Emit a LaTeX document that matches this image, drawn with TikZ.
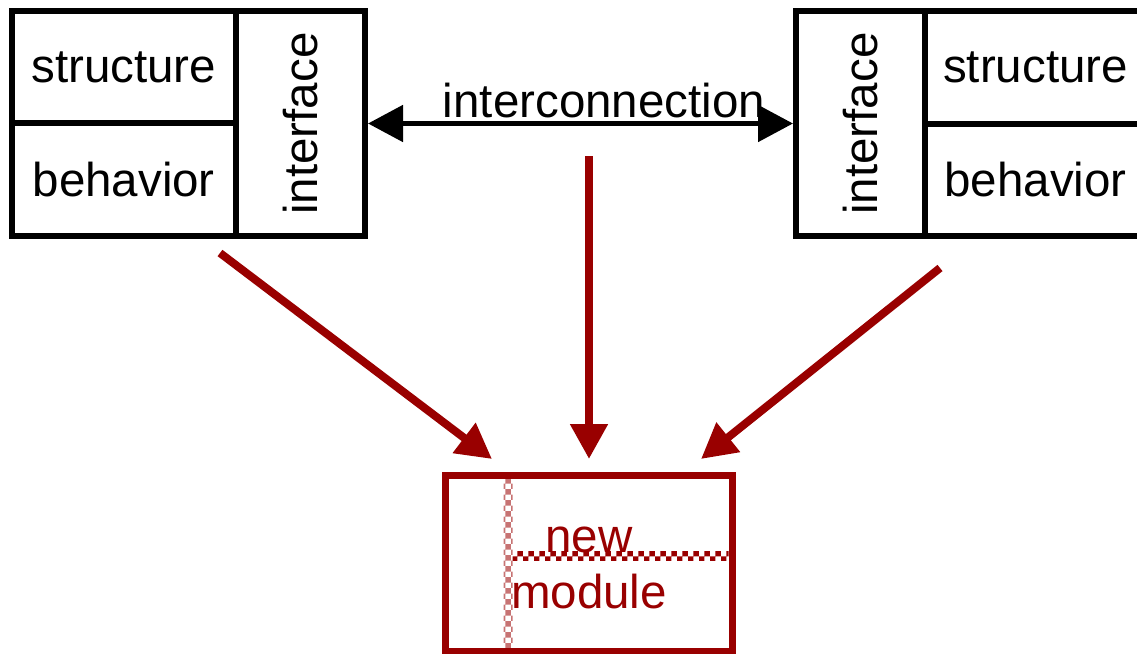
\documentclass[tikz,border=0pt]{standalone}
\usepackage{fontspec}
\setmainfont{Liberation Sans}
\usetikzlibrary{calc,arrows.meta,patterns}
\definecolor{modred}{HTML}{990000}

\begin{document}
\begin{tikzpicture}[x=1pt,y=-1pt,font=\fontsize{47.5}{56}\selectfont,
  cell/.style={draw, line width=6pt, inner sep=0pt},
  linkarrow/.style={line width=5pt, {Triangle[length=35pt,width=36pt]}-{Triangle[length=35pt,width=36pt]}},
  mergearrow/.style={draw=modred, line width=8pt, -{Triangle[length=35pt,width=36pt]}, fill=modred}]
\useasboundingbox (0,0) rectangle (1137,653);
\node[cell, minimum width=224.5pt, minimum height=112pt] (lstruct) at (123.75,67) {structure};
\node[cell, minimum width=224.5pt, minimum height=113pt] (lbehav) at (123.75,179.5) {behavior};
\node[cell, minimum width=129pt, minimum height=225pt] (linter) at (300.5,123.5) {\rotatebox{90}{interface}};
\node[cell, minimum width=129pt, minimum height=225pt] (rinter) at (860.5,123.5) {\rotatebox{90}{interface}};
\node[cell, minimum width=221pt, minimum height=113pt] (rstruct) at (1035.5,67.5) {structure};
\node[cell, minimum width=221pt, minimum height=112pt] (rbehav) at (1035.5,180) {behavior};
\draw[linkarrow] (linter.east)--(rinter.west);
\node[anchor=base] (link) at (604,117) {interconnection};
\node[draw=modred, line width=7pt, minimum width=286.5pt, minimum height=175.5pt] (newmod) at (588.75,563.25) {};
\fill[pattern=checkerboard, pattern color=modred!55] (503.5,479) rectangle (512.5,647.5);
\fill[pattern=checkerboard, pattern color=modred] (512.5,551) rectangle (728.5,560);
\node[text=modred, align=center, anchor=base] (newlbl) at (589,608) {new\\module};
\coordinate (lsrc) at (220,253); \coordinate (ltip) at (492,459); \draw[mergearrow] (lsrc)--(ltip);
\coordinate (csrc) at (589,156); \coordinate (ctip) at (589,459); \draw[mergearrow] (csrc)--(ctip);
\coordinate (rsrc) at (940,268); \coordinate (rtip) at (701,459); \draw[mergearrow] (rsrc)--(rtip);
\end{tikzpicture}
\end{document}
